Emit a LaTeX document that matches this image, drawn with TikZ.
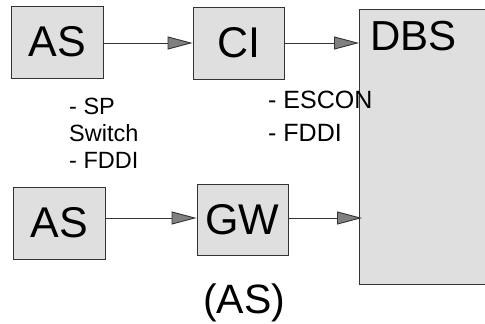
\documentclass[tikz,border=0pt]{standalone}
\usepackage{fontspec}
\setmainfont{Liberation Sans}
\usetikzlibrary{arrows.meta}
\definecolor{boxfill}{HTML}{DFDFDF}
\definecolor{boxline}{HTML}{333333}
\definecolor{tipfill}{HTML}{808080}
\tikzset{
  box/.style={draw=boxline, fill=boxfill, line width=0.9pt, inner sep=0pt, text=black,
    font=\fontsize{43}{43}\selectfont},
  conn/.style={draw=boxline, line width=0.9pt,
    -{Triangle[length=25pt,width=13pt,fill=tipfill]}},
  lbl/.style={align=left, anchor=base west, inner sep=0pt}
}
\begin{document}
\begin{tikzpicture}[x=1pt,y=-1pt]
\useasboundingbox (0,0) rectangle (485,324);
\clip (0,0) rectangle (485,324);
\node[box, minimum width=92pt, minimum height=72pt] (as1) at (57,42) {AS};
\node[box, minimum width=91pt, minimum height=72pt] (ci) at (238.5,43) {CI};
\node[box, minimum width=140pt, minimum height=275pt, anchor=north west] (dbs) at (359,9) {};
\node[anchor=base west, inner sep=0pt, font=\fontsize{42}{42}\selectfont] (dbslbl) at (370,50) {DBS};
\node[box, minimum width=92pt, minimum height=72pt] (as2) at (59,223) {AS};
\node[box, minimum width=91pt, minimum height=71pt] (gw) at (242.5,219.5) {GW};
\node[lbl, font=\fontsize{23.5}{27}\selectfont] (l1) at (69,168) {- SP\\Switch\\- FDDI};
\node[lbl, font=\fontsize{25}{33}\selectfont] (l2) at (268,141) {- ESCON\\- FDDI};
\node[anchor=base, inner sep=0pt, font=\fontsize{41}{41}\selectfont] (asp) at (244,313) {(AS)};
\draw[conn] (as1.east |- 0,43) -- (ci.west |- 0,43);
\draw[conn] (ci.east |- 0,43) -- (dbs.west |- 0,43);
\draw[conn] (as2.east |- 0,218) -- (gw.west |- 0,218);
\draw[conn, shorten >=-3pt] (gw.east |- 0,218) -- (dbs.west |- 0,218);
\end{tikzpicture}
\end{document}
